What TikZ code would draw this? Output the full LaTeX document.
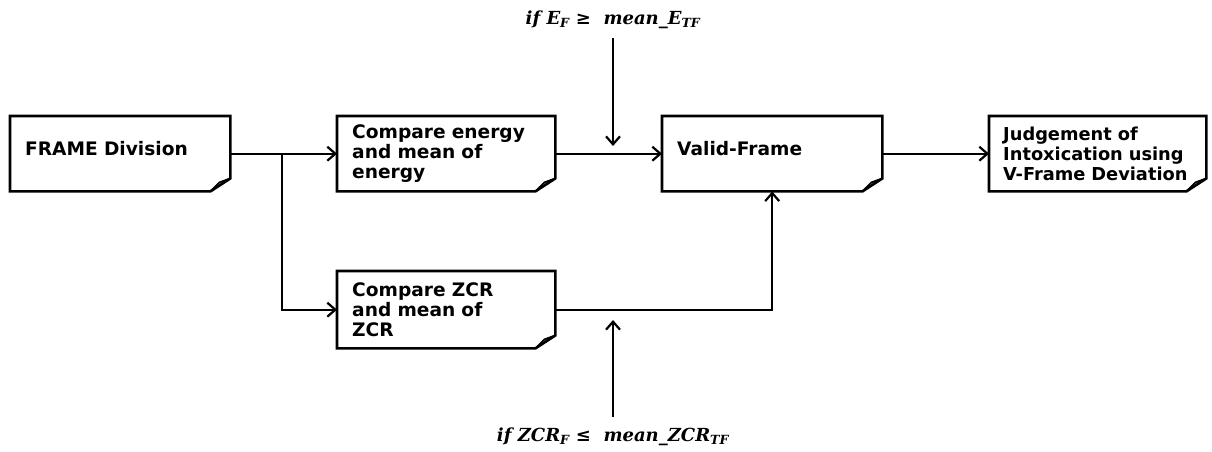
\documentclass[tikz,border=0pt]{standalone}
\usepackage{fontspec}
\setsansfont{DejaVu Sans}
\newfontfamily\condfont{DejaVu Serif}
\usetikzlibrary{arrows.meta}
\begin{document}
\begin{tikzpicture}[x=1pt,y=-1pt,
  docbox/.style={draw=none, rectangle, inner xsep=15pt, inner ysep=0pt,
    minimum height=75pt, anchor=north west, text width=#1, align=left,
    font=\sffamily\bfseries\fontsize{18.6}{20}\selectfont},
  oneline/.style={text depth=11pt},
  boxline/.style={draw=black, line width=2.6pt, line join=miter},
  conn/.style={draw=black, line width=2.2pt, -{Straight Barb[length=8pt,width=14pt,line width=2.2pt]}},
  cond/.style={inner sep=0pt, font=\condfont\bfseries\itshape\fontsize{18}{20}\selectfont}]
\useasboundingbox (0,0) rectangle (1212,451);
% boxes
\node[docbox=190pt, oneline] (fd) at (10,116) {FRAME Division};
\node[docbox=188pt] (ce) at (337,116) {Compare energy\\and mean of\\energy};
\node[docbox=190pt, oneline] (vf) at (662,116) {Valid-Frame};
\node[docbox=189pt, inner xsep=14pt, font=\sffamily\bfseries\fontsize{17.8}{20}\selectfont] (jd) at (989,116) {\mbox{Judgement of}\\\mbox{Intoxication using}\\\mbox{V-Frame Deviation}};
\node[docbox=188pt, minimum height=77pt] (cz) at (337,271) {Compare ZCR\\and mean of\\ZCR};
\foreach \n in {fd,ce,vf,jd,cz}{
  \draw[boxline] (\n.north west) -- (\n.north east) -- ([yshift=13pt]\n.south east)
    -- ([xshift=-20pt]\n.south east) -- (\n.south west) -- cycle;
  \draw[black, line width=1.8pt, line join=round] ([yshift=13pt]\n.south east)
    -- ([xshift=-11pt,yshift=9pt]\n.south east) -- ([xshift=-20pt]\n.south east);
}
% labels
\node[cond] (tl) at (613,20) {if E\textsubscript{F} ≥ \ mean\_E\textsubscript{TF}};
\node[cond] (bl) at (613,437) {if ZCR\textsubscript{F} ≤ \ mean\_ZCR\textsubscript{TF}};
% connectors
\coordinate (j) at (282,153.5);
\coordinate (ta) at (613,146);
\coordinate (ba) at (613,320);
\draw[conn] (fd.east) -- (ce.west);
\draw[conn] (j) |- (cz.west);
\draw[conn] (ce.east) -- (vf.west);
\draw[conn] (cz.east) -| (vf.south);
\draw[conn] (vf.east) -- (jd.west);
\draw[conn] ([yshift=-9pt]tl.south) -- (ta);
\draw[conn] ([yshift=11pt]bl.north) -- (ba);
\end{tikzpicture}
\end{document}
